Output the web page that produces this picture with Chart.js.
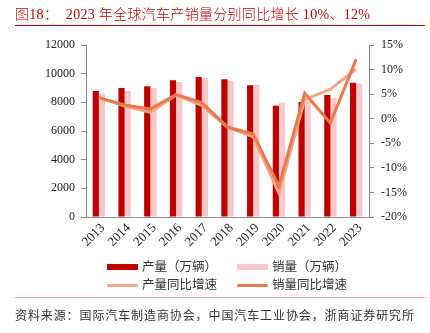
<!DOCTYPE html>
<html><head><meta charset="utf-8">
<script src="https://cdn.jsdelivr.net/npm/chart.js@4.4.0/dist/chart.umd.min.js"></script>
<style>
html,body{margin:0;padding:0;background:#fff;width:430px;height:333px;overflow:hidden;position:relative;font-family:"Noto Sans CJK SC",sans-serif;}
#title{position:absolute;left:15px;top:3px;font-size:14px;color:#C00000;white-space:nowrap;letter-spacing:0.3px;font-family:"Liberation Serif","Noto Sans CJK SC",serif;}
#title .cjk{font-family:"Noto Sans CJK SC",sans-serif;font-weight:300;}
#tline{position:absolute;left:15px;top:25px;width:410px;height:1px;background:#C00000;}
#bline{position:absolute;left:15px;top:297px;width:410px;height:1px;background:#EBA3A3;}
#src{position:absolute;left:15px;top:306px;font-size:12px;letter-spacing:0.9px;color:#333;white-space:nowrap;}
#wrap{position:absolute;left:0;top:0;width:430px;height:333px;}
.lg{position:absolute;font-size:12.5px;color:#333;white-space:nowrap;line-height:14px;}
.sw{position:absolute;}
</style></head><body>
<div id="wrap"><canvas id="c" width="430" height="333"></canvas></div>
<div id="title"><span class="cjk">图</span>18<span class="cjk">：</span>&nbsp;&nbsp;2023 <span class="cjk">年全球汽车产销量分别同比增长</span> 10%<span class="cjk">、</span>12%</div>
<div id="tline"></div>
<div id="legend"></div>
<div id="bline"></div>
<div id="src">资料来源：国际汽车制造商协会，中国汽车工业协会，浙商证券研究所</div>
<script>
const years = ['2013','2014','2015','2016','2017','2018','2019','2020','2021','2022','2023'];
const production = [8790,9000,9120,9540,9770,9610,9190,7770,8025,8510,9370];
const sales = [8600,8790,9000,9420,9720,9510,9210,7980,8120,8300,9300];
const productionGrowth = [4.3,2.6,1.3,4.8,2.7,-1.7,-3.7,-15.2,3.9,6.0,10.1];
const salesGrowth = [4.3,2.8,2.0,4.9,3.3,-1.7,-3.1,-13.7,5.2,-0.9,12.1];
const seriesNames = ['产量（万辆）','销量（万辆）','产量同比增速','销量同比增速'];
const leftTicks = [0,2000,4000,6000,8000,10000,12000];
const rightTicks = [-20,-15,-10,-5,0,5,10,15];

const C_DARK='#C00000', C_LIGHT='#F8C8C8', C_PG='#F3A585', C_SG='#E87A4C';
const axisGray='#8c8c8c';
const tickFont={family:'"Liberation Serif", "Times New Roman", serif', size:12};

// draws the category axis labels rotated 45° at the library's tick positions
const xLabelPlugin={
  id:'xLabels',
  afterDraw(chart){
    const s=chart.scales.x, ctx=chart.ctx;
    ctx.save();
    ctx.font='13px "Liberation Serif", "Times New Roman", serif';
    ctx.fillStyle='#222';
    ctx.textAlign='right';ctx.textBaseline='middle';
    s.ticks.forEach((t,i)=>{
      const x=s.getPixelForTick(i);
      ctx.save();
      ctx.translate(x+4,s.top+9);
      ctx.rotate(-Math.PI/4);
      ctx.fillText(s.getLabelForValue(t.value),0,0);
      ctx.restore();
    });
    ctx.restore();
  }
};

new Chart(document.getElementById('c'),{
  data:{labels:years,datasets:[
    {type:'line',label:seriesNames[3],data:salesGrowth,yAxisID:'y1',borderColor:C_SG,backgroundColor:C_SG,borderWidth:3,pointRadius:0,tension:0,order:1},
    {type:'line',label:seriesNames[2],data:productionGrowth,yAxisID:'y1',borderColor:C_PG,backgroundColor:C_PG,borderWidth:3,pointRadius:0,tension:0,order:2},
    {type:'bar',label:seriesNames[0],data:production,yAxisID:'y',backgroundColor:C_DARK,categoryPercentage:0.48,barPercentage:1,order:3},
    {type:'bar',label:seriesNames[1],data:sales,yAxisID:'y',backgroundColor:C_LIGHT,categoryPercentage:0.48,barPercentage:1,order:4}
  ]},
  plugins:[xLabelPlugin],
  options:{
    responsive:false,animation:false,
    layout:{padding:{left:0,top:45,right:0,bottom:0}},
    plugins:{legend:{display:false},tooltip:{enabled:false}},
    scales:{
      x:{
        grid:{display:false,drawTicks:false},
        border:{display:true,color:axisGray,width:1},
        ticks:{display:false},
        afterFit:s=>{s.height=333-217;}
      },
      y:{
        position:'left',min:0,max:12000,
        afterBuildTicks:s=>{s.ticks=leftTicks.map(v=>({value:v}));},
        grid:{drawOnChartArea:false,drawTicks:true,tickLength:5,color:axisGray},
        border:{display:true,color:axisGray,width:1},
        ticks:{font:tickFont,color:'#222',padding:6,callback:v=>String(v)},
        afterFit:s=>{s.width=86;}
      },
      y1:{
        position:'right',min:-20,max:15,
        afterBuildTicks:s=>{s.ticks=rightTicks.map(v=>({value:v}));},
        grid:{drawOnChartArea:false,drawTicks:true,tickLength:5,color:axisGray},
        border:{display:true,color:axisGray,width:1},
        ticks:{font:tickFont,color:'#222',padding:7,callback:v=>v+'%'},
        afterFit:s=>{s.width=430-369;}
      }
    }
  }
});

// legend
const lg=document.getElementById('legend');
const items=[
  {name:seriesNames[0],color:C_DARK,type:'bar',x:107,y:267},
  {name:seriesNames[1],color:C_LIGHT,type:'bar',x:237,y:267},
  {name:seriesNames[2],color:C_PG,type:'line',x:107,y:285},
  {name:seriesNames[3],color:C_SG,type:'line',x:237,y:285}
];
items.forEach(it=>{
  const sw=document.createElement('div');sw.className='sw';
  const h=it.type==='bar'?6:3;
  sw.style.cssText=`left:${it.x}px;top:${it.y-h/2}px;width:31px;height:${h}px;background:${it.color};border-radius:${it.type==='line'?'2px':'0'}`;
  lg.appendChild(sw);
  const t=document.createElement('div');t.className='lg';t.textContent=it.name;
  t.style.left=(it.x+35)+'px';t.style.top=(it.y-8)+'px';
  lg.appendChild(t);
});
</script>
</body></html>
